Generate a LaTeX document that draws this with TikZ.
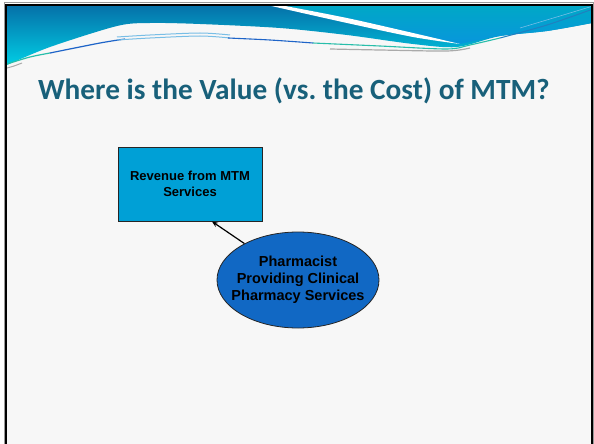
\documentclass[tikz,border=0pt]{standalone}
\usepackage{fontspec}
\setmainfont{Liberation Sans}
\newfontfamily\titlefont{Carlito}
\usetikzlibrary{shapes.geometric,arrows.meta}
\definecolor{slidebg}{RGB}{247,247,247}
\definecolor{bandtop}{RGB}{6,112,168}
\definecolor{bandbot}{RGB}{0,205,228}
\definecolor{righttop}{RGB}{0,168,198}
\definecolor{rightbot}{RGB}{8,150,220}
\definecolor{titlecol}{RGB}{24,96,122}
\definecolor{boxfill}{RGB}{0,160,214}
\definecolor{ellfill}{RGB}{17,104,196}
\definecolor{ribteal}{RGB}{40,190,170}
\definecolor{ribblue}{RGB}{30,100,200}
\definecolor{riblight}{RGB}{120,190,230}
\definecolor{ribgray}{RGB}{170,170,170}
\tikzset{
  boxnode/.style={draw=black!85, line width=0.8pt, fill=boxfill, minimum width=144pt, minimum height=74pt, inner sep=0pt, align=center, font=\fontsize{13}{16}\selectfont\bfseries},
  ellnode/.style={ellipse, draw=black!85, line width=0.8pt, fill=ellfill, minimum width=162pt, minimum height=96pt, inner xsep=-10pt, inner ysep=0pt, align=center, font=\fontsize{14.5}{17}\selectfont\bfseries},
  conn/.style={line width=1.2pt, -{Stealth[length=6pt,width=5pt]}},
  titletext/.style={anchor=base west, inner sep=0pt, text=titlecol, font=\titlefont\fontsize{29.3}{34}\selectfont\bfseries},
}
\begin{document}
\begin{tikzpicture}[x=1pt,y=-1pt]
\useasboundingbox (0,0) rectangle (594,444);
\fill[white] (0,0) rectangle (594,444);
\fill[slidebg] (6,5) rectangle (592,444);
% header band
\shade[top color=bandtop, bottom color=bandbot]
  (7,5) -- (592,5) -- (592,23)
  -- plot[smooth] coordinates {(592,23) (547,31) (500,36) (457,47) (413,44) (347,35) (280,28) (200,24) (150,23) (117,26) (50,47) (7,65)} -- cycle;
% right region
\shade[top color=righttop, bottom color=rightbot]
  (280,5) -- (592,5) -- (592,23)
  -- plot[smooth] coordinates {(592,23) (547,31) (500,36) (460,44)}
  -- plot[smooth] coordinates {(460,44) (413,33) (347,18) (280,5)} -- cycle;
% white swoosh
\fill[white]
  plot[smooth] coordinates {(267,5) (347,23) (413,37) (460,44)}
  -- plot[smooth] coordinates {(460,44) (413,33) (347,18) (280,5)} -- cycle;
% ribbon strokes
\draw[ribgray, line width=1pt] plot[smooth] coordinates {(7,68) (14,66) (22,63)};
\draw[ribteal, line width=1.2pt] plot[smooth] coordinates {(7,64) (30,57) (50,53)};
\draw[ribblue, line width=1.2pt] plot[smooth] coordinates {(50,53) (100,43) (125,39)};
\draw[riblight, line width=1pt] plot[smooth] coordinates {(117,37) (150,35) (200,33) (230,35)};
\draw[riblight, line width=1pt] plot[smooth] coordinates {(117,40) (150,38) (200,36) (230,38)};
\draw[ribblue, line width=1.1pt] plot[smooth] coordinates {(228,38) (270,40) (313,43)};
\draw[ribgray, line width=1.2pt] plot[smooth] coordinates {(330,49) (380,50) (447,51) (470,48)};
\draw[ribteal, line width=1.1pt] plot[smooth] coordinates {(313,43) (380,46) (447,49) (470,45) (500,38)};
\draw[ribblue!70!ribteal, line width=1pt] plot[smooth] coordinates {(500,38) (547,25) (593,9)};
\draw[riblight, line width=0.6pt] plot[smooth] coordinates {(520,28) (560,16) (593,6)};
% frame
\draw[black!40, line width=1pt] (4,444) -- (4,3) -- (593.5,3) -- (593.5,444);
\draw[black, line width=2pt] (5.8,444) -- (5.8,4.8) -- (592,4.8) -- (592,444);
% title
\node[titletext] (title) at (38,99) {Where is the Value (vs.\ the Cost) of MTM?};
% diagram
\node[boxnode] (rev) at (190,184) {Revenue from MTM\\Services};
\node[ellnode] (pharm) at (298,280) {Pharmacist\\Providing Clinical\\Pharmacy Services};
\coordinate (tip) at (212,221.5);
\draw[conn] (pharm) -- (tip);
\end{tikzpicture}
\end{document}
